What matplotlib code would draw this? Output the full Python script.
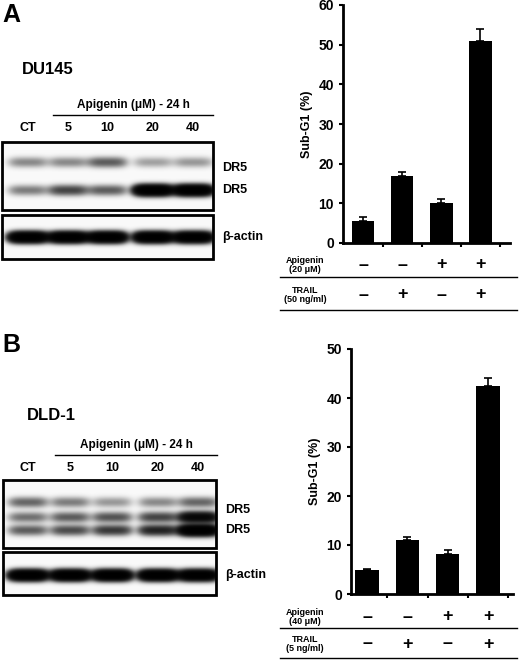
import numpy as np
import matplotlib
matplotlib.use("Agg")
import matplotlib.pyplot as plt

plt.rcParams['font.family'] = ['Liberation Sans', 'DejaVu Sans']
plt.rcParams['font.weight'] = 'bold'

# ---- data ----
lanes = ["CT", "5", "10", "20", "40"]
A_dr5_upper = [0.30, 0.30, 0.50, 0.22, 0.25]
A_dr5_lower = [0.35, 0.65, 0.50, 3.0, 3.0]
A_actin = [3.0, 3.0, 3.0, 3.0, 3.0]
B_dr5_top = [0.45, 0.35, 0.25, 0.30, 0.45]
B_dr5_mid = [0.40, 0.50, 0.55, 0.65, 1.8]
B_dr5_low = [0.50, 0.60, 0.75, 1.0, 3.0]
B_actin = [3.0, 3.0, 3.0, 3.0, 3.0]

A_sub = [5.5, 17.0, 10.0, 51.0]
A_err = [1.0, 1.0, 1.2, 3.0]
B_sub = [4.9, 11.0, 8.2, 42.5]
B_err = [0.3, 0.6, 0.7, 1.5]
api_signs = ["-", "-", "+", "+"]
trail_signs = ["-", "+", "-", "+"]

W, H = 520, 660
fig = plt.figure(figsize=(W/100, H/100), dpi=100)
ov = fig.add_axes([0, 0, 1, 1])
ov.set_xlim(0, W); ov.set_ylim(H, 0); ov.axis('off')

def blot(x0, x1, y0, y1, centers, bands):
    xs = np.arange(x0, x1, 0.5); ys = np.arange(y0, y1, 0.5)
    X, Y = np.meshgrid(xs, ys)
    I = np.zeros_like(X)
    for by, amps in bands:
        for c, a in zip(centers, amps):
            I += a * np.exp(-((X - c)/19.0)**4) * np.exp(-((Y - by)/4.8)**2)
    D = 1 - np.exp(-2.0*I)
    ov.imshow(D, cmap='gray_r', vmin=-0.02, vmax=1.0, extent=[x0, x1, y1, y0],
              aspect='auto', interpolation='bilinear')
    ov.add_patch(plt.Rectangle((x0, y0), x1-x0, y1-y0, fill=False, lw=2, ec='black'))

def blot_panel(oy, centers, x0, x1, name, letter, boxes, bandsets, labels, line_x):
    ov.text(2, oy+15, letter, fontsize=18, fontweight='bold', va='center')
    ov.text(22 if letter == "A" else 27, oy + (70 if letter == "A" else 85), name,
            fontsize=12, fontweight='bold', va='center')
    ay = oy + (105 if letter == "A" else 115)
    ov.text((line_x[0]+line_x[1])/2, ay, "Apigenin (μM) - 24 h", fontsize=8.5,
            fontweight='bold', ha='center', va='center')
    ov.plot(line_x, [ay+10, ay+10], color='black', lw=1)
    for c, l in zip(centers, lanes):
        ov.text(c, ay+23, l, fontsize=9, fontweight='bold', ha='center', va='center')
    for (by0, by1), bands in zip(boxes, bandsets):
        blot(x0, x1, oy+by0, oy+by1, centers, [(oy+b, a) for b, a in bands])
    for ly, t in labels:
        ov.text(x1+9, oy+ly, t, fontsize=9, fontweight='bold', va='center')

blot_panel(0, [28, 68, 107, 153, 193], 2, 213, "DU145", "A",
           [(142, 210), (215, 259)],
           [[(162, A_dr5_upper), (190, A_dr5_lower)], [(237, A_actin)]],
           [(168, "DR5"), (190, "DR5"), (237, "β-actin")], [53, 213])
blot_panel(330, [28, 70, 112, 158, 198], 3, 216, "DLD-1", "B",
           [(150, 218), (222, 265)],
           [[(172, B_dr5_top), (187, B_dr5_mid), (200, B_dr5_low)], [(245, B_actin)]],
           [(180, "DR5"), (200, "DR5"), (245, "β-actin")], [55, 217])

def bar_panel(left, right, top, zero, ymax, xl, vals, errs, rows, lines, apilab, trlab):
    ax = fig.add_axes([left/W, (H-zero)/H, (right-left)/W, (zero-top)/H])
    x = np.arange(len(vals))
    ax.bar(x, vals, width=0.58, color='black')
    ax.errorbar(x, vals, yerr=[np.zeros(len(errs)), errs], fmt='none',
                ecolor='black', elinewidth=1.2, capsize=3, capthick=1.2)
    ax.set_xlim(*xl); ax.set_ylim(0, ymax)
    ax.set_yticks(np.arange(0, ymax+1, 10))
    ax.set_xticks(x + 0.5); ax.set_xticklabels([])
    ax.tick_params(axis='x', direction='out', length=3, width=1.5)
    ax.tick_params(axis='y', direction='out', length=3, width=1.5, labelsize=10)
    for t in ax.get_yticklabels(): t.set_fontweight('bold')
    for s in ['top', 'right']: ax.spines[s].set_visible(False)
    for s in ['left', 'bottom']: ax.spines[s].set_linewidth(2)
    ax.set_ylabel("Sub-G1 (%)", fontsize=9, fontweight='bold')
    ax.patch.set_alpha(0)
    def px(v):
        return left + (v - xl[0]) / (xl[1] - xl[0]) * (right - left)
    for ry, signs in zip(rows, [api_signs, trail_signs]):
        for xi, s in zip(x, signs):
            ov.text(px(xi), ry, "–" if s == "-" else s, fontsize=13, fontweight='bold',
                    ha='center', va='center')
    ov.text(305, rows[0], apilab, fontsize=6.5, fontweight='bold', ha='center',
            va='center', linespacing=0.9)
    ov.text(305, rows[1], trlab, fontsize=6.5, fontweight='bold', ha='center',
            va='center', linespacing=0.9)
    for ly in lines:
        ov.plot([280, 517], [ly, ly], color='black', lw=1)

bar_panel(343, 510, 5, 243, 60, (-0.51, 3.76), A_sub, A_err,
          [265, 295], [277, 310], "Apigenin\n(20 μM)", "TRAIL\n(50 ng/ml)")
bar_panel(351, 513, 349, 594, 50, (-0.4, 3.62), B_sub, B_err,
          [617, 644], [628, 658], "Apigenin\n(40 μM)", "TRAIL\n(5 ng/ml)")

fig.savefig("out.png", dpi=100)
